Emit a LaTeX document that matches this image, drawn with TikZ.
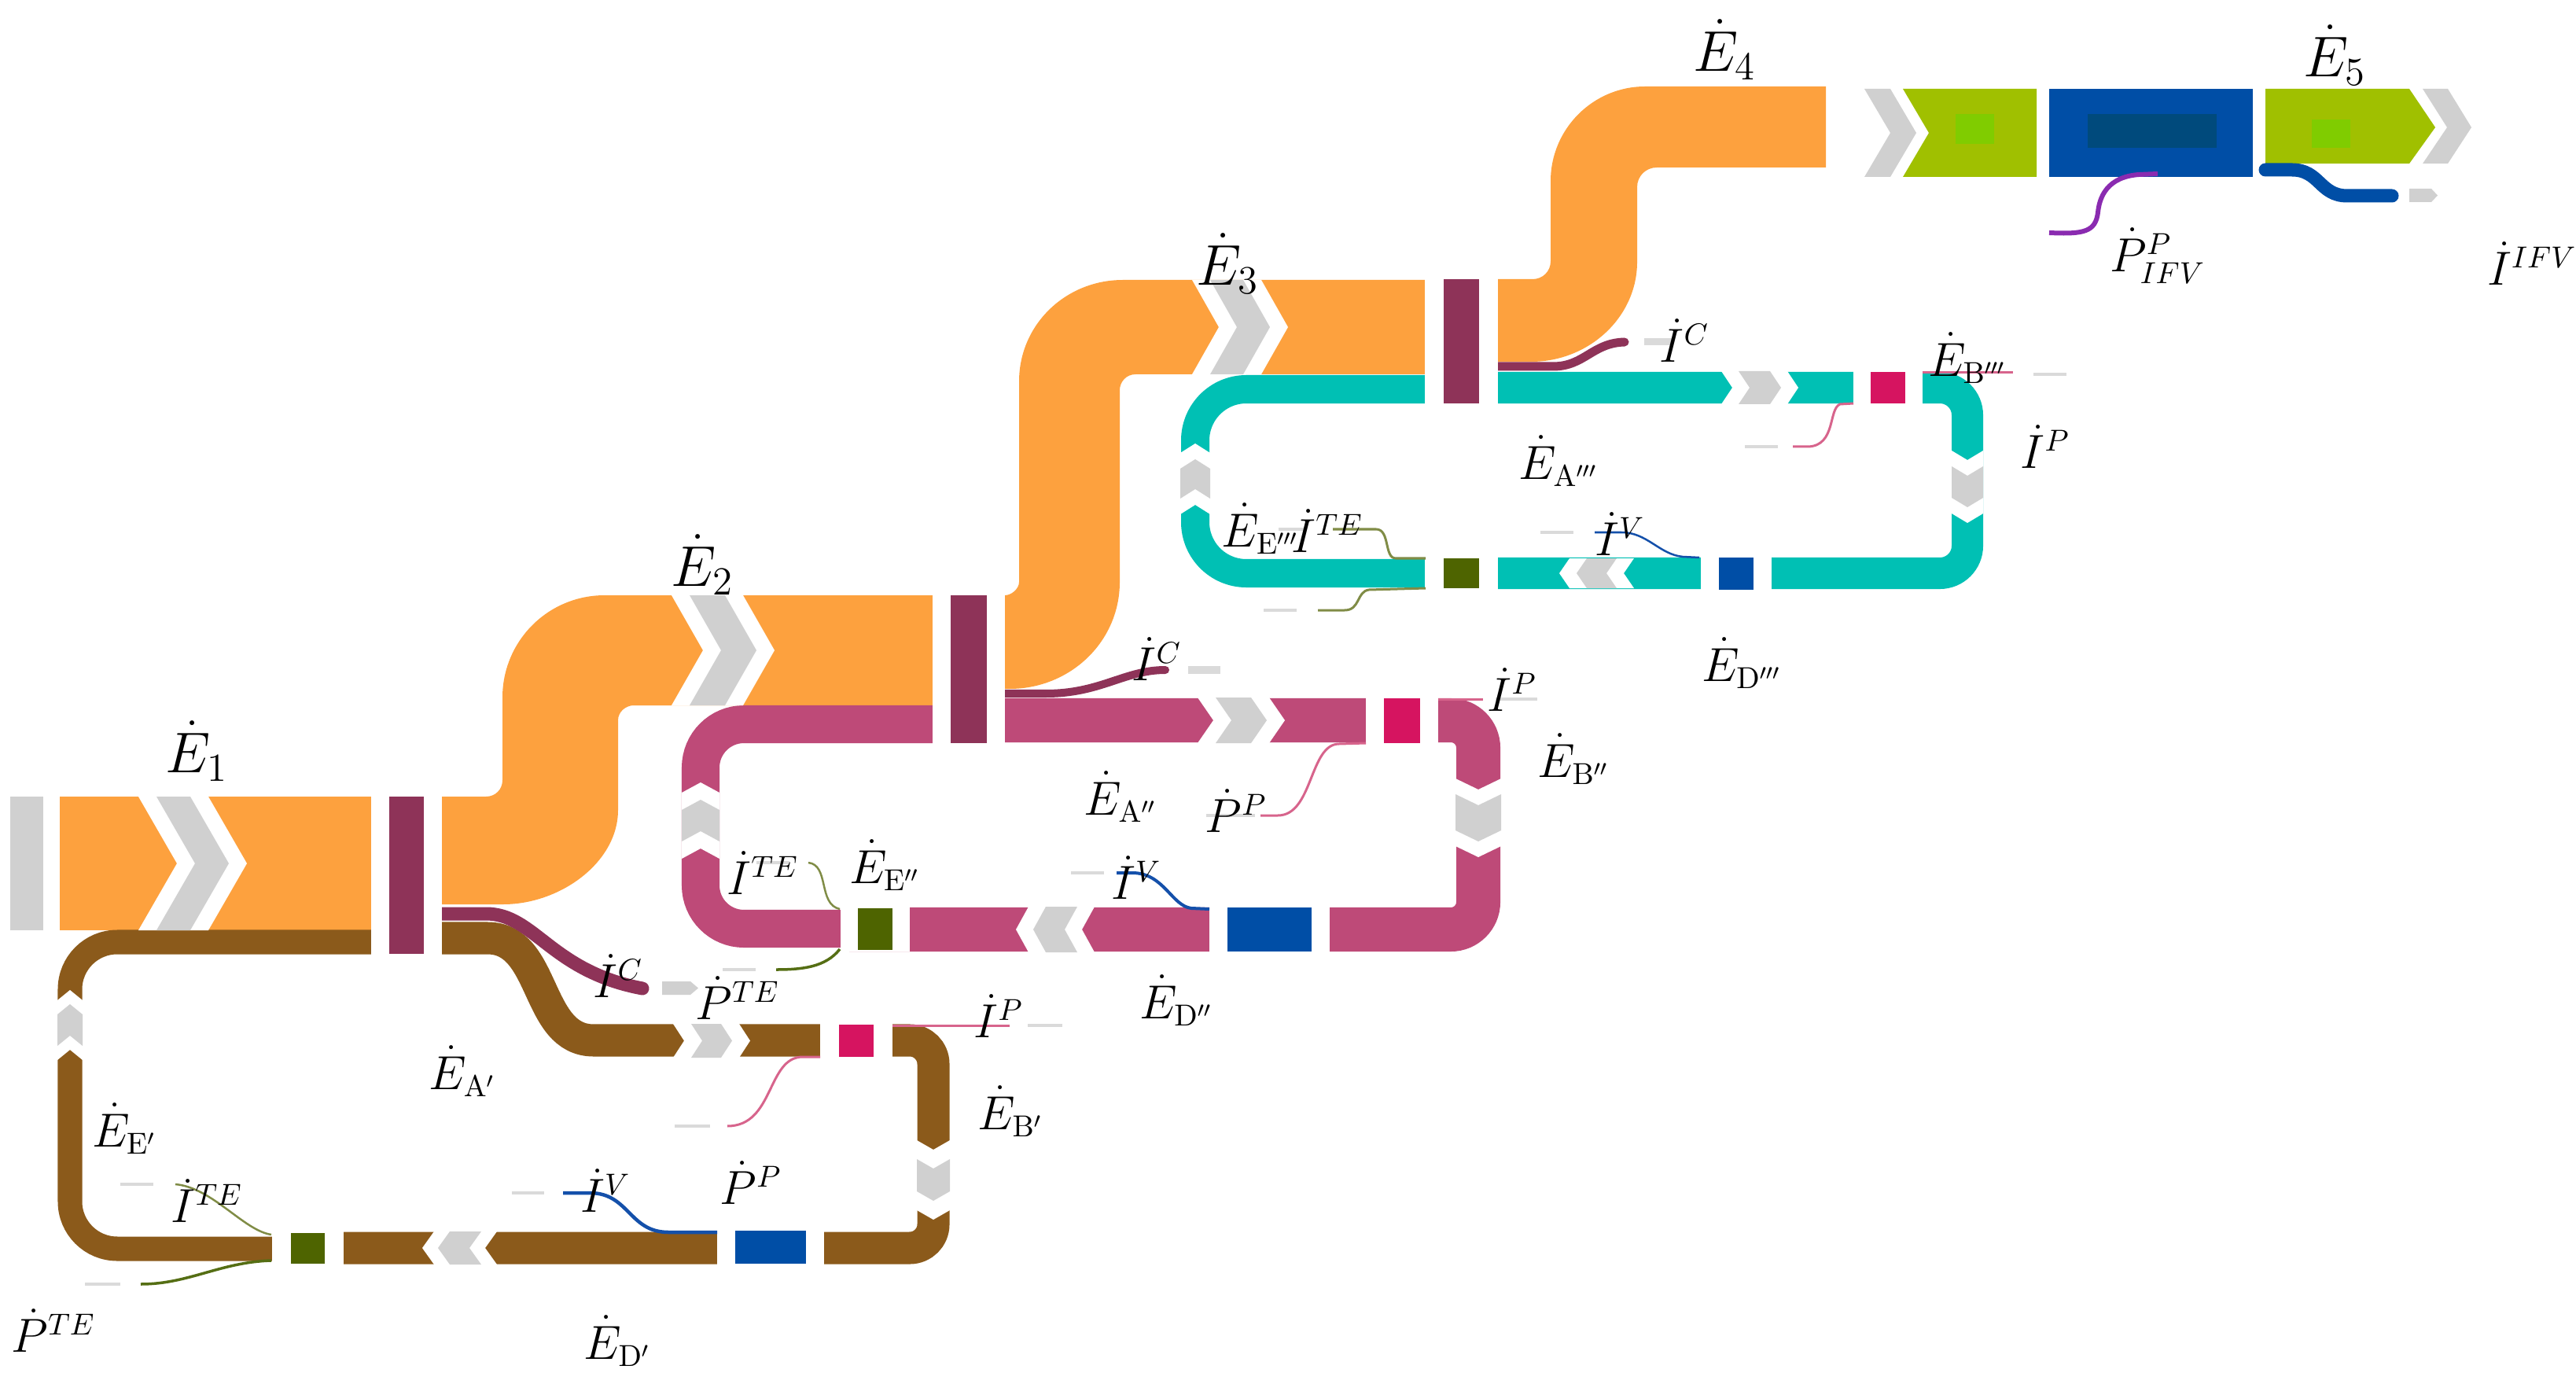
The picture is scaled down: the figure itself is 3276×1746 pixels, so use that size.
\documentclass[tikz,border=0pt]{standalone}
\usetikzlibrary{calc}
\definecolor{corange}{RGB}{253,161,62}
\definecolor{cgray}{RGB}{208,208,208}
\definecolor{cgrayl}{RGB}{218,218,218}
\definecolor{cpurple}{RGB}{142,51,88}
\definecolor{cbrown}{RGB}{139,90,27}
\definecolor{cpink}{RGB}{190,74,120}
\definecolor{cteal}{RGB}{0,192,180}
\definecolor{ccrimson}{RGB}{214,20,96}
\definecolor{colive}{RGB}{78,100,0}
\definecolor{cblue}{RGB}{0,78,166}
\definecolor{clime}{RGB}{160,192,0}
\definecolor{cbright}{RGB}{128,204,0}
\definecolor{cdark}{RGB}{0,74,124}
\definecolor{cviolet}{RGB}{138,43,176}
\definecolor{colivel}{RGB}{128,140,70}
\definecolor{coliled}{RGB}{85,110,20}
\definecolor{cpinkl}{RGB}{215,100,140}
\definecolor{cbluel}{RGB}{20,80,170}
% right-pointing chevron: x, y1, y2, w, d, gap
\newcommand\chevR[6]{%
 \fill[white] ({#1-#6},#2) -- ({#1+#4+#6},#2) -- ({#1+#4+#6+#5},{(#2+#3)/2}) -- ({#1+#4+#6},#3) -- ({#1-#6},#3) -- ({#1-#6+#5},{(#2+#3)/2}) -- cycle;
 \fill[cgray] (#1,#2) -- ({#1+#4},#2) -- ({#1+#4+#5},{(#2+#3)/2}) -- ({#1+#4},#3) -- (#1,#3) -- ({#1+#5},{(#2+#3)/2}) -- cycle;}
% left-pointing chevron: xl, y1, y2, w, d, gap
\newcommand\chevL[6]{%
 \fill[white] ({#1-#6},#2) -- ({#1+#4+#6},#2) -- ({#1+#4+#6-#5},{(#2+#3)/2}) -- ({#1+#4+#6},#3) -- ({#1-#6},#3) -- ({#1-#6-#5},{(#2+#3)/2}) -- cycle;
 \fill[cgray] (#1,#2) -- ({#1+#4},#2) -- ({#1+#4-#5},{(#2+#3)/2}) -- ({#1+#4},#3) -- (#1,#3) -- ({#1-#5},{(#2+#3)/2}) -- cycle;}
% up-pointing chevron: x1, x2, ytop, w, d, gap
\newcommand\chevU[6]{%
 \fill[white] (#1,{#3-#6}) -- ({(#1+#2)/2},{#3-#6-#5}) -- (#2,{#3-#6}) -- (#2,{#3+#4+#6}) -- ({(#1+#2)/2},{#3+#4+#6-#5}) -- (#1,{#3+#4+#6}) -- cycle;
 \fill[cgray] (#1,#3) -- ({(#1+#2)/2},{#3-#5}) -- (#2,#3) -- (#2,{#3+#4}) -- ({(#1+#2)/2},{#3+#4-#5}) -- (#1,{#3+#4}) -- cycle;}
% down-pointing chevron: x1, x2, ytop, w, d, gap
\newcommand\chevD[6]{%
 \fill[white] (#1,{#3-#6}) -- ({(#1+#2)/2},{#3-#6+#5}) -- (#2,{#3-#6}) -- (#2,{#3+#4+#6}) -- ({(#1+#2)/2},{#3+#4+#6+#5}) -- (#1,{#3+#4+#6}) -- cycle;
 \fill[cgray] (#1,#3) -- ({(#1+#2)/2},{#3+#5}) -- (#2,#3) -- (#2,{#3+#4}) -- ({(#1+#2)/2},{#3+#4+#5}) -- (#1,{#3+#4}) -- cycle;}
% coloured block with white gaps: colour, x1, y1, x2, y2, gap
\newcommand\gapbox[6]{%
 \fill[white] ({#2-#6},{#3-2}) rectangle ({#4+#6},{#5+2});
 \fill[#1] (#2,#3) rectangle (#4,#5);}
\newcommand\gdash[3]{\draw[cgrayl, line width=0.045cm] (#1,#3) -- (#2,#3);}
\begin{document}
\begin{tikzpicture}[x=0.01cm,y=-0.01cm,
  lbl/.style={font=\fontsize{16}{18}\selectfont, inner sep=0pt},
  big/.style={font=\fontsize{20}{22}\selectfont, inner sep=0pt},
  thin/.style={line width=0.03cm}]
\useasboundingbox (0,0) rectangle (3276,1746);

% ---------- main orange flow ----------
\fill[cgray] (13,1013) rectangle (55,1183);
\fill[corange] (76,1013) rectangle (472,1183);
\fill[corange] (562,1013) -- (618,1013) .. controls (630,1013) and (639,1004) .. (639,992) -- (639,887) .. controls (639,815) and (697,757) .. (769,757) -- (1186,757) -- (1186,897) -- (806,897) .. controls (796,897) and (786,905) .. (786,916) -- (786,1030) .. controls (786,1097) and (712,1150) .. (640,1150) -- (562,1150) -- cycle;
\fill[corange] (1278,757) .. controls (1286,757) and (1296,749) .. (1296,740) -- (1296,485) .. controls (1296,413) and (1355,356) .. (1428,356) -- (1813,356) -- (1813,476) -- (1444,476) .. controls (1432,476) and (1424,486) .. (1424,496) -- (1424,740) .. controls (1424,817) and (1360,876) .. (1284,876) -- (1278,876) -- cycle;
\fill[corange] (1905,355) -- (1949,355) .. controls (1962,355) and (1972,345) .. (1972,332) -- (1972,230) .. controls (1972,164) and (2026,110) .. (2092,110) -- (2322,110) -- (2322,213) -- (2107,213) .. controls (2093,213) and (2082,224) .. (2082,238) -- (2082,333) .. controls (2082,403) and (2021,460) .. (1947,460) -- (1905,460) -- cycle;

% ---------- brown loop ----------
\draw[cbrown, line width=0.31cm, rounded corners=0.6cm] (472,1198) -- (89,1198) -- (89,1588) -- (360,1588);
\draw[cbrown, line width=0.41cm] (562,1193) -- (620,1193) .. controls (695,1193) and (680,1323) .. (755,1323) -- (1120,1323);
\draw[cbrown, line width=0.41cm, rounded corners=0.3cm] (1100,1323) -- (1187,1323) -- (1187,1587) -- (360,1587);
\draw[cpurple, line width=0.17cm, line cap=round] (562,1162) -- (618,1162) .. controls (680,1162) and (700,1235) .. (817,1257);

% ---------- pink loop ----------
\draw[cpink, line width=0.48cm, rounded corners=0.55cm] (1186,921) -- (891,921) -- (891,1181) -- (1100,1181);
\draw[cpink, line width=0.56cm, rounded corners=0.35cm] (1278,916) -- (1880,916) -- (1880,1182) -- (1080,1182);
\draw[cpurple, line width=0.1cm, line cap=round] (1278,882) -- (1330,882) .. controls (1400,882) and (1430,852) .. (1482,852);

% ---------- teal loop ----------
\draw[cteal, line width=0.36cm, rounded corners=0.65cm] (1813,495) -- (1520,495) -- (1520,729) -- (1850,729);
\draw[cteal, line width=0.40cm, rounded corners=0.35cm] (1905,493) -- (2502,493) -- (2502,729) -- (1850,729);
\draw[cpurple, line width=0.11cm, line cap=round] (1905,466) -- (1975,466) .. controls (2015,466) and (2025,436) .. (2066,435);

% ---------- chevrons ----------
\chevR{199}{1013}{1183}{43}{49}{23}
\chevR{877}{757}{897}{45}{40}{23}
\chevR{1539}{356}{476}{42}{34}{23}
\chevU{73}{105}{1290}{40}{13}{18}
\chevR{879}{1302}{1345}{38}{14}{23}
\chevD{1166}{1208}{1474}{41}{12}{24}
\chevL{572}{1566}{1608}{40}{15}{20}
\chevU{867}{915}{1030}{40}{13}{22}
\chevR{1546}{887}{945}{45}{20}{23}
\chevD{1851}{1909}{1010}{46}{14}{20}
\chevL{1330}{1153}{1211}{40}{16}{22}
\chevU{1501}{1539}{596}{38}{12}{20}
\chevR{2211}{472}{514}{40}{14}{22}
\chevD{2482}{2522}{593}{40}{12}{20}
\chevL{2018}{710}{748}{38}{13}{22}

% ---------- bars and blocks ----------
\gapbox{cpurple}{495}{1013}{539}{1213}{23}
\gapbox{cpurple}{1209}{757}{1255}{945}{23}
\gapbox{cpurple}{1836}{355}{1881}{513}{24}
\gapbox{ccrimson}{1067}{1303}{1111}{1344}{24}
\gapbox{colive}{370}{1568}{413}{1607}{24}
\gapbox{cblue}{935}{1565}{1025}{1607}{23}
\gapbox{ccrimson}{1760}{888}{1806}{945}{23}
\gapbox{colive}{1091}{1155}{1135}{1208}{22}
\gapbox{cblue}{1561}{1154}{1668}{1210}{23}
\gapbox{ccrimson}{2379}{473}{2423}{513}{22}
\gapbox{colive}{1836}{710}{1881}{748}{24}
\gapbox{cblue}{2186}{709}{2230}{750}{23}

% ---------- thin flows, stage 1 ----------
\draw[cpinkl, thin] (1135,1304) -- (1284,1304);
\gdash{1307}{1351}{1304}
\draw[cpinkl, thin] (1043,1344) -- (1021,1344) .. controls (975,1344) and (985,1432) .. (925,1432);
\gdash{858}{903}{1432}
\draw[cbluel, line width=0.045cm] (912,1567) -- (850,1567) .. controls (800,1567) and (800,1517) .. (750,1517) -- (716,1517);
\gdash{651}{692}{1517}
\draw[colivel, line width=0.025cm] (345,1570) .. controls (310,1565) and (270,1510) .. (223,1506);
\gdash{153}{195}{1506}
\draw[coliled, line width=0.035cm] (345,1603) .. controls (280,1605) and (240,1633) .. (179,1633);
\gdash{108}{153}{1633}
\fill[cgray] (842,1248) -- (878,1248) -- (888,1256.5) -- (878,1265) -- (842,1265) -- cycle;

% ---------- thin flows, stage 2 ----------
\draw[cpinkl, thin] (1829,889) -- (1886,889);
\gdash{1902}{1955}{889}
\draw[cpinkl, thin] (1737,945) -- (1703,946) .. controls (1665,946) and (1670,1037) .. (1625,1037) -- (1603,1037);
\gdash{1534}{1596}{1037}
\draw[cbluel, line width=0.04cm] (1538,1156) -- (1515,1155) .. controls (1490,1152) and (1480,1110) .. (1440,1110) -- (1420,1110);
\gdash{1362}{1404}{1110}
\draw[colivel, line width=0.025cm] (1068,1156) .. controls (1040,1150) and (1055,1100) .. (1028,1097);
\gdash{962}{1004}{1097}
\draw[coliled, line width=0.035cm] (1068,1207) .. controls (1050,1230) and (1020,1233) .. (987,1233);
\gdash{919}{961}{1233}
\draw[cgrayl, line width=0.09cm] (1511,852) -- (1552,852);

% ---------- thin flows, stage 3 ----------
\draw[cpinkl, thin] (2445,474) -- (2560,474);
\gdash{2586}{2628}{476}
\draw[cpinkl, thin] (2357,513) -- (2340,514) .. controls (2325,520) and (2335,566) .. (2300,568) -- (2280,568);
\gdash{2219}{2261}{568}
\draw[cbluel, line width=0.025cm] (2161,709) -- (2140,708) .. controls (2110,705) and (2095,677) .. (2062,677) -- (2028,677);
\gdash{1959}{2001}{677}
\draw[colivel, line width=0.03cm] (1813,710) -- (1775,710) .. controls (1760,710) and (1768,673) .. (1750,673) -- (1695,673);
\gdash{1626}{1662}{673}
\draw[colivel, line width=0.03cm] (1813,748) -- (1741,750) .. controls (1725,752) and (1730,776) .. (1710,776) -- (1676,776);
\gdash{1607}{1649}{776}
\draw[cgrayl, line width=0.09cm] (2091,435) -- (2128,435);

% ---------- stage 4 / 5 ----------
\fill[cgray] (2371,113) -- (2404,113) -- (2437,169) -- (2404,225) -- (2371,225) -- (2404,169) -- cycle;
\fill[clime] (2420,113) -- (2590,113) -- (2590,225) -- (2420,225) -- (2453,169) -- cycle;
\fill[cbright] (2487,145) rectangle (2536,183);
\fill[cblue] (2606,113) rectangle (2865,225);
\fill[cdark] (2655,145) rectangle (2819,188);
\fill[clime] (2881,113) -- (3064,113) -- (3097,162) -- (3064,208) -- (2881,208) -- cycle;
\fill[cbright] (2940,152) rectangle (2989,188);
\fill[cgray] (3081,113) -- (3113,113) -- (3143,162) -- (3113,208) -- (3081,208) -- (3112,162) -- cycle;
\draw[cblue, line width=0.17cm, line cap=round] (2881,216) -- (2915,216) .. controls (2950,216) and (2950,249) .. (2985,249) -- (3042,249);
\fill[cgray] (3064,240) -- (3092,240) -- (3100,248.5) -- (3092,257) -- (3064,257) -- cycle;
\draw[cviolet, line width=0.06cm] (2744,221) -- (2720,222) .. controls (2680,225) and (2670,250) .. (2668,270) .. controls (2665,295) and (2650,298) .. (2606,296);

% ---------- labels ----------
\node[big] (E1) at (250,955) {$\dot{E}_1$};
\node[big] (E2) at (893,718) {$\dot{E}_2$};
\node[big] (E3) at (1561,335) {$\dot{E}_3$};
\node[big] (E4) at (2193,63) {$\dot{E}_4$};
\node[big] (E5) at (2969,70) {$\dot{E}_5$};

\node[lbl] (EA1) at (588,1362) {$\dot{E}_{\mathrm{A}'}$};
\node[lbl] (EE1) at (158,1435) {$\dot{E}_{\mathrm{E}'}$};
\node[lbl] (ITE1) at (263,1527) {$\dot{I}^{TE}$};
\node[lbl] (PTE1) at (68,1692) {$\dot{P}^{TE}$};
\node[lbl] (ED1) at (785,1705) {$\dot{E}_{\mathrm{D}'}$};
\node[lbl] (IV1) at (770,1514) {$\dot{I}^{V}$};
\node[lbl] (PP1) at (955,1504) {$\dot{P}^{P}$};
\node[lbl] (EB1) at (1285,1413) {$\dot{E}_{\mathrm{B}'}$};
\node[lbl] (IP1) at (1270,1292) {$\dot{I}^{P}$};
\node[lbl] (IC1) at (786,1241) {$\dot{I}^{C}$};
\node[lbl] (PTE2) at (938,1269) {$\dot{P}^{TE}$};

\node[lbl] (IC2) at (1471,838) {$\dot{I}^{C}$};
\node[lbl] (IP2) at (1923,877) {$\dot{I}^{P}$};
\node[lbl] (EB2) at (2001,965) {$\dot{E}_{\mathrm{B}''}$};
\node[lbl] (EA2) at (1425,1013) {$\dot{E}_{\mathrm{A}''}$};
\node[lbl] (PP2) at (1572,1031) {$\dot{P}^{P}$};
\node[lbl] (ITE2) at (970,1110) {$\dot{I}^{TE}$};
\node[lbl] (EE2) at (1125,1100) {$\dot{E}_{\mathrm{E}''}$};
\node[lbl] (IV2) at (1445,1116) {$\dot{I}^{V}$};
\node[lbl] (ED2) at (1496,1272) {$\dot{E}_{\mathrm{D}''}$};

\node[lbl] (IC3) at (2142,433) {$\dot{I}^{C}$};
\node[lbl] (EB3) at (2502,455) {$\dot{E}_{\mathrm{B}'''}$};
\node[lbl] (IP3) at (2601,568) {$\dot{I}^{P}$};
\node[lbl] (EA3) at (1982,586) {$\dot{E}_{\mathrm{A}'''}$};
\node[lbl] (EE3) at (1603,672) {$\dot{E}_{\mathrm{E}'''}$};
\node[lbl] (ITE3) at (1688,675) {$\dot{I}^{TE}$};
\node[lbl] (IV3) at (2060,679) {$\dot{I}^{V}$};
\node[lbl] (ED3) at (2215,843) {$\dot{E}_{\mathrm{D}'''}$};

\node[lbl] (PPIFV) at (2744,325) {$\dot{P}^{P}_{IFV}$};
\node[lbl] (IIFV) at (3220,335) {$\dot{I}^{IFV}$};
\end{tikzpicture}
\end{document}
